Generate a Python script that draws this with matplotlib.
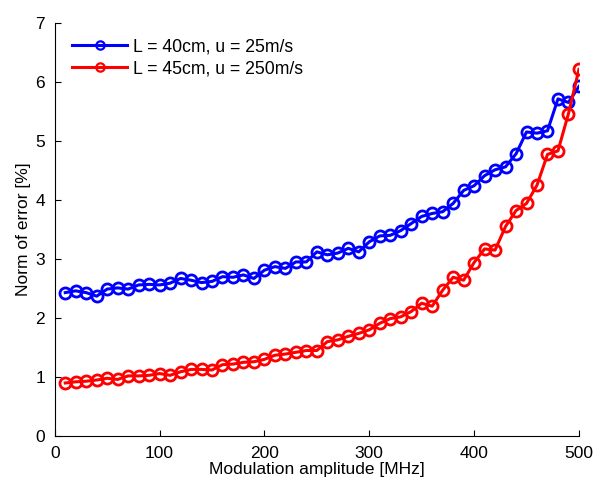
import numpy as np
import matplotlib.pyplot as plt
from matplotlib.lines import Line2D

plt.rcParams['font.family'] = ['Liberation Sans', 'DejaVu Sans']

# -----------------------------
# Data
freq = np.arange(10, 501, 10)  # modulation amplitude [MHz]

err_40cm = [2.43, 2.46, 2.43, 2.37, 2.49, 2.51, 2.49, 2.56, 2.57, 2.56,
            2.59, 2.67, 2.64, 2.60, 2.62, 2.70, 2.69, 2.73, 2.67, 2.81,
            2.87, 2.84, 2.95, 2.95, 3.12, 3.07, 3.10, 3.18, 3.12, 3.29,
            3.39, 3.40, 3.48, 3.60, 3.72, 3.77, 3.80, 3.94, 4.16, 4.24,
            4.41, 4.51, 4.56, 4.78, 5.15, 5.13, 5.17, 5.71, 5.65, 5.92]

err_45cm = [0.90, 0.92, 0.93, 0.95, 0.98, 0.96, 1.02, 1.02, 1.03, 1.06,
            1.03, 1.09, 1.13, 1.13, 1.12, 1.21, 1.22, 1.25, 1.26, 1.30,
            1.37, 1.39, 1.42, 1.45, 1.45, 1.60, 1.63, 1.69, 1.74, 1.80,
            1.91, 1.99, 2.02, 2.11, 2.25, 2.20, 2.47, 2.69, 2.64, 2.94,
            3.17, 3.15, 3.55, 3.82, 3.94, 4.25, 4.77, 4.83, 5.46, 6.21]

labels = ['L = 40cm, u = 25m/s', 'L = 45cm, u = 250m/s']
colors = ['#0000ff', '#ff0000']

# -----------------------------
# Plot
fig = plt.figure(figsize=(5.95, 4.83), dpi=100)
ax = fig.add_axes([0.092, 0.097, 0.881, 0.856])

style = dict(lw=2.2, marker='o', ms=8, mfc='none', mew=2)
ax.plot(freq, err_40cm, color=colors[0], **style)
ax.plot(freq, err_45cm, color=colors[1], **style)

ax.set_xlim(0, 500)
ax.set_ylim(0, 7)
ax.set_xticks(range(0, 501, 100))
ax.set_yticks(range(0, 8))
ax.tick_params(direction='in', labelsize=12.5, length=4, pad=7)
ax.spines['top'].set_visible(False)
ax.spines['right'].set_visible(False)

ax.set_xlabel('Modulation amplitude [MHz]', fontsize=12.5, labelpad=1)
ax.set_ylabel('Norm of error [%]', fontsize=12.5, labelpad=3)

# legend handles with smaller open markers, like the original
handles = [Line2D([], [], color=c, lw=2.2, marker='o', ms=6, mfc='none', mew=1.6)
           for c in colors]
ax.legend(handles, labels, loc='upper left', frameon=False, fontsize=12.7,
          handlelength=3.1, handletextpad=0.35, labelspacing=0.3,
          borderaxespad=0.0, bbox_to_anchor=(0.02, 0.98))

fig.savefig('out.png', dpi=100)
